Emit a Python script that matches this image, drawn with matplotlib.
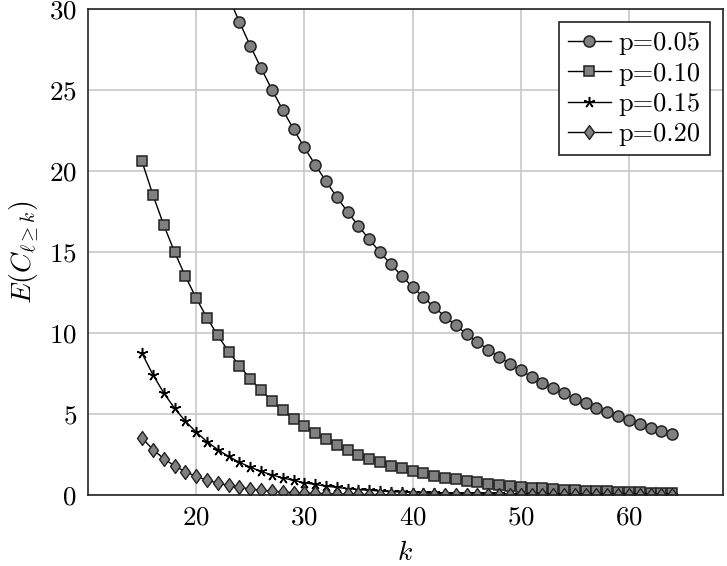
import matplotlib
matplotlib.use('Agg')
import matplotlib.pyplot as plt
from matplotlib.path import Path

plt.rcParams['font.family'] = ['cmr10', 'DejaVu Serif']
plt.rcParams['mathtext.fontset'] = 'cm'
plt.rcParams['axes.formatter.use_mathtext'] = True

k = list(range(15, 65))

p05 = [46.33, 44.01, 41.81, 39.72, 37.74, 35.85, 34.06, 32.35, 30.74, 29.20,
       27.74, 26.35, 25.03, 23.78, 22.59, 21.46, 20.39, 19.37, 18.40, 17.48,
       16.61, 15.78, 14.99, 14.24, 13.53, 12.85, 12.21, 11.60, 11.02, 10.47,
       9.94, 9.45, 8.97, 8.53, 8.10, 7.69, 7.31, 6.94, 6.60, 6.27,
       5.95, 5.66, 5.37, 5.10, 4.85, 4.61, 4.38, 4.16, 3.95, 3.75]
p10 = [20.59, 18.53, 16.68, 15.01, 13.51, 12.16, 10.94, 9.85, 8.86, 7.98,
       7.18, 6.46, 5.81, 5.23, 4.71, 4.24, 3.82, 3.43, 3.09, 2.78,
       2.50, 2.25, 2.03, 1.82, 1.64, 1.48, 1.33, 1.20, 1.08, 0.97,
       0.87, 0.79, 0.71, 0.64, 0.57, 0.52, 0.46, 0.42, 0.38, 0.34,
       0.30, 0.27, 0.25, 0.22, 0.20, 0.18, 0.16, 0.15, 0.13, 0.12]
p15 = [8.74, 7.43, 6.31, 5.36, 4.56, 3.88, 3.30, 2.80, 2.38, 2.02,
       1.72, 1.46, 1.24, 1.06, 0.90, 0.76, 0.65, 0.55, 0.47, 0.40,
       0.34, 0.29, 0.25, 0.21, 0.18, 0.15, 0.13, 0.11, 0.09, 0.08,
       0.07, 0.06, 0.05, 0.04, 0.03, 0.03, 0.03, 0.02, 0.02, 0.02,
       0.01, 0.01, 0.01, 0.01, 0.01, 0.01, 0.00, 0.00, 0.00, 0.00]
p20 = [3.52, 2.81, 2.25, 1.80, 1.44, 1.15, 0.92, 0.74, 0.59, 0.47,
       0.38, 0.30, 0.24, 0.19, 0.15, 0.12, 0.10, 0.08, 0.06, 0.05,
       0.04, 0.03, 0.03, 0.02, 0.02, 0.01, 0.01, 0.01, 0.01, 0.01,
       0.00, 0.00, 0.00, 0.00, 0.00, 0.00, 0.00, 0.00, 0.00, 0.00,
       0.00, 0.00, 0.00, 0.00, 0.00, 0.00, 0.00, 0.00, 0.00, 0.00]

labels = ['p=0.05', 'p=0.10', 'p=0.15', 'p=0.20']

# pgfplots-like diamond: a bit narrower than tall
diamond = Path([(0, 1), (0.72, 0), (0, -1), (-0.72, 0), (0, 1)],
               [Path.MOVETO, Path.LINETO, Path.LINETO, Path.LINETO, Path.CLOSEPOLY])

fig = plt.figure(figsize=(7.27, 5.66), dpi=100)
ax = fig.add_axes([0.121, 0.1254, 0.8735, 0.8586])

gray = '#808080'
edge = '#222222'
ax.plot(k, p05, '-o', color='black', lw=1, ms=8, mfc=gray, mec=edge, mew=1.1, label=labels[0])
ax.plot(k, p10, '-s', color='black', lw=1, ms=7.5, mfc=gray, mec=edge, mew=1.1, label=labels[1])
ax.plot(k, p15, '-', marker=(5, 2, 0), color='black', lw=1, ms=8, mec='black', mew=1.1, label=labels[2])
ax.plot(k, p20, '-', marker=diamond, color='black', lw=1, ms=10, mfc=gray, mec=edge, mew=1.0, label=labels[3])

ax.set_xlim(10, 68.7)
ax.set_ylim(0, 30)
ax.set_xticks([20, 30, 40, 50, 60])
ax.set_yticks([0, 5, 10, 15, 20, 25, 30])
ax.grid(True, color='#c8c8c8', lw=1.2)
ax.set_axisbelow(True)
ax.tick_params(direction='in', length=0, labelsize=19.5, pad=8)
for s in ax.spines.values():
    s.set_linewidth(1.2)
    s.set_color(edge)

ax.set_xlabel('$k$', fontsize=20, labelpad=7)
ax.set_ylabel(r'$E(C_{\ell\geq k})$', fontsize=20, labelpad=6)

leg = ax.legend(loc='upper right', fontsize=19, fancybox=False, framealpha=1,
                edgecolor=edge, handlelength=1.6, handletextpad=0.3,
                borderpad=0.35, labelspacing=0.25, borderaxespad=0.5)
leg.get_frame().set_linewidth(1.2)

fig.savefig('out.png', dpi=100)
